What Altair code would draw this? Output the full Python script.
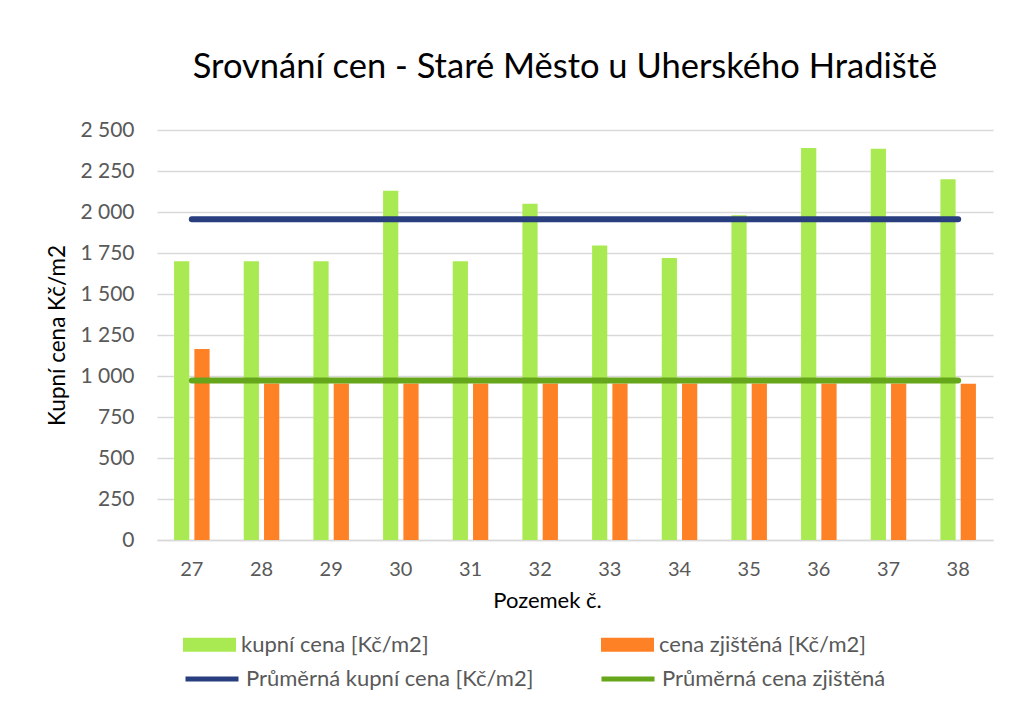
import altair as alt
import pandas as pd

categories = ["27", "28", "29", "30", "31", "32", "33", "34", "35", "36", "37", "38"]
kupni_cena = [1700, 1700, 1700, 2130, 1700, 2050, 1795, 1720, 1980, 2390, 2385, 2200]
cena_zjistena = [1165, 955, 955, 955, 955, 955, 955, 955, 955, 955, 955, 953]
prumer_kupni = 1956
prumer_zjistena = 973
y_ticks = [0, 250, 500, 750, 1000, 1250, 1500, 1750, 2000, 2250, 2500]

s1 = "kupní cena [Kč/m2]"
s2 = "cena zjištěná [Kč/m2]"
s3 = "Průměrná kupní cena [Kč/m2]"
s4 = "Průměrná cena zjištěná"
bar_colors = ["#a9ea52", "#ff8125"]
line_colors = ["#283e7e", "#66a61a"]

bars_df = pd.DataFrame(
    [{"pozemek": c, "series": s1, "value": v} for c, v in zip(categories, kupni_cena)]
    + [{"pozemek": c, "series": s2, "value": v} for c, v in zip(categories, cena_zjistena)]
)
lines_df = pd.DataFrame(
    [{"pozemek": c, "line": s3, "value": prumer_kupni} for c in categories]
    + [{"pozemek": c, "line": s4, "value": prumer_zjistena} for c in categories]
)

FONT = "Lato"

x_enc = alt.X(
    "pozemek:N",
    sort=categories,
    scale=alt.Scale(paddingInner=0.49, paddingOuter=0.245),
    axis=alt.Axis(
        title="Pozemek č.",
        labelAngle=0,
        labelFontSize=20,
        ticks=False,
        domain=True,
        domainColor="#d9d9d9",
        domainWidth=1.5,
        labelPadding=35,
        labelBaseline="alphabetic",
        titleX=390,
        titleY=67,
        titleBaseline="alphabetic",
        titleFontSize=22,
    ),
)
y_scale = alt.Scale(domain=[0, 2500], nice=False)
y_axis = alt.Axis(
    title="Kupní cena Kč/m2",
    values=y_ticks,
    labelExpr="replace(format(datum.value, ','), ',', ' ')",
    labelFontSize=21,
    ticks=False,
    domain=False,
    grid=True,
    gridColor="#d9d9d9",
    gridWidth=1.5,
    labelPadding=23,
    titlePadding=10,
    titleFontSize=22.5,
)

legend_common = dict(
    title=None,
    orient="none",
    columns=2,
    symbolSize=2809,
    labelFontSize=22,
    labelColor="#595959",
    labelFont=FONT,
    labelOffset=5,
    labelLimit=500,
)

bars = alt.Chart(bars_df).mark_bar().encode(
    x=x_enc,
    xOffset=alt.XOffset(
        "series:N",
        sort=[s1, s2],
        scale=alt.Scale(domain=[s1, s2], paddingInner=0.25, paddingOuter=0),
    ),
    y=alt.Y("value:Q", scale=y_scale, axis=y_axis),
    color=alt.Color(
        "series:N",
        scale=alt.Scale(domain=[s1, s2], range=bar_colors),
        legend=alt.Legend(
            legendX=26,
            legendY=488,
            columnPadding=172,
            symbolType="M-1,-0.264H1V0.264H-1Z",
            symbolStrokeWidth=0,
            **legend_common,
        ),
    ),
)

lines = alt.Chart(lines_df).mark_line(strokeWidth=6, strokeCap="round").encode(
    x=alt.X("pozemek:N", sort=categories),
    y=alt.Y("value:Q"),
    stroke=alt.Stroke(
        "line:N",
        scale=alt.Scale(domain=[s3, s4], range=line_colors),
        legend=alt.Legend(
            legendX=26,
            legendY=520,
            columnPadding=57,
            symbolType="stroke",
            symbolStrokeWidth=5,
            **legend_common,
        ),
    ),
)

chart = (
    alt.layer(bars, lines)
    .resolve_legend(color="independent", stroke="independent")
    .properties(
        width=836,
        height=410,
        title=alt.TitleParams(
            "Srovnání cen - Staré Město u Uherského Hradiště",
            fontSize=34.5,
            font=FONT,
            fontWeight="normal",
            color="#000000",
            offset=34,
            dx=-10,
        ),
        autosize=alt.AutoSizeParams(type="none"),
        padding={"left": 149, "top": 122, "right": 15, "bottom": 152},
    )
    .configure_view(stroke=None)
    .configure_axis(
        labelFont=FONT,
        labelColor="#595959",
        titleFont=FONT,
        titleFontWeight="normal",
        titleColor="#000000",
    )
)

chart.save("out.html", embed_options={"renderer": "svg", "actions": False})
